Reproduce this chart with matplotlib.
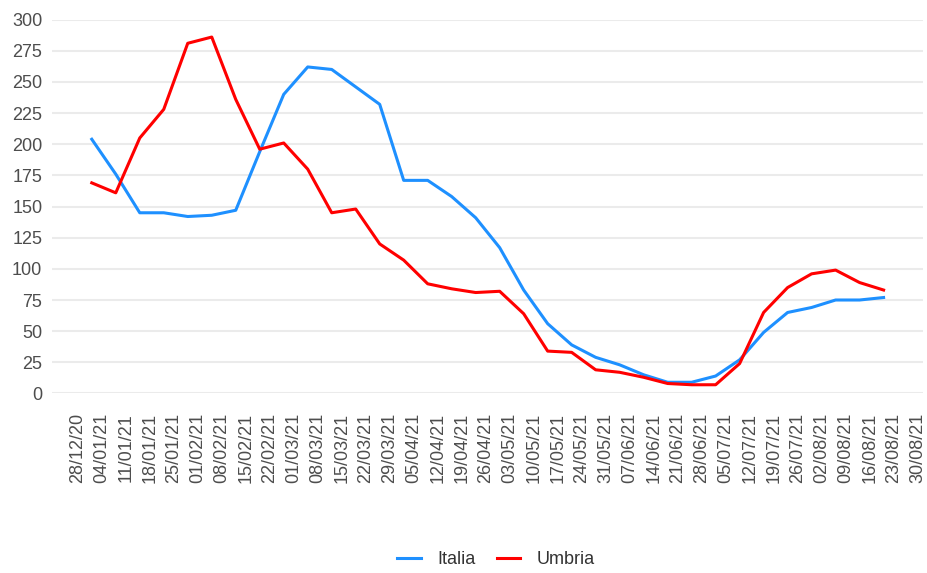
import numpy as np
import pandas as pd
import matplotlib
matplotlib.use("Agg")
import matplotlib.pyplot as plt
import matplotlib.dates as mdates

plt.rcParams['font.family'] = ['Liberation Sans', 'DejaVu Sans']

# weekly tick labels on the x axis
tick_labels = ["28/12/20", "04/01/21", "11/01/21", "18/01/21", "25/01/21", "01/02/21",
               "08/02/21", "15/02/21", "22/02/21", "01/03/21", "08/03/21", "15/03/21",
               "22/03/21", "29/03/21", "05/04/21", "12/04/21", "19/04/21", "26/04/21",
               "03/05/21", "10/05/21", "17/05/21", "24/05/21", "31/05/21", "07/06/21",
               "14/06/21", "21/06/21", "28/06/21", "05/07/21", "12/07/21", "19/07/21",
               "26/07/21", "02/08/21", "09/08/21", "16/08/21", "23/08/21", "30/08/21"]

# weekly values (one point per week, starting 01/01/21)
italia = [204, 176, 145, 145, 142, 143, 147, 194, 240, 262, 260, 246,
          232, 171, 171, 158, 141, 117, 83, 56, 39, 29, 23, 15,
          9, 9, 14, 27, 49, 65, 69, 75, 75, 77]
umbria = [169, 161, 205, 228, 281, 286, 236, 196, 201, 180, 145, 148,
          120, 107, 88, 84, 81, 82, 64, 34, 33, 19, 17, 13,
          8, 7, 7, 24, 65, 85, 96, 99, 89, 83]

series_names = ["Italia", "Umbria"]
series_colors = ["#1e90ff", "#ff0000"]

tick_dates = pd.to_datetime(tick_labels, format="%d/%m/%y")
data_dates = pd.date_range("2021-01-01", periods=len(italia), freq="7D")

fig = plt.figure(figsize=(9.27, 5.73), dpi=100)
ax = fig.add_axes([0.0561, 0.3133, 0.9396, 0.6525])

for vals, name, col in zip([italia, umbria], series_names, series_colors):
    ax.plot(data_dates, vals, color=col, lw=2.2, label=name, solid_joinstyle='round')

ax.set_ylim(0, 300)
ax.set_yticks(np.arange(0, 301, 25))
ax.set_xlim(tick_dates[0] - pd.Timedelta(days=7.6), tick_dates[-1] + pd.Timedelta(days=1.5))
ax.set_xticks(tick_dates)
ax.set_xticklabels(tick_labels, rotation=90, va='top', ha='center')

ax.grid(axis='y', color='#ebebeb', lw=1.5)
ax.set_axisbelow(True)
for s in ax.spines.values():
    s.set_visible(False)
ax.tick_params(axis='both', length=0, labelsize=13, labelcolor='#4d4d4d')
ax.tick_params(axis='x', pad=14)
ax.tick_params(axis='y', pad=7)

fig.legend(loc='lower center', bbox_to_anchor=(0.535, -0.02), ncol=2, frameon=False,
           fontsize=13, handlelength=1.3, columnspacing=1.2, handletextpad=0.9,
           labelcolor='#333333')

fig.savefig("out.png", dpi=100)
